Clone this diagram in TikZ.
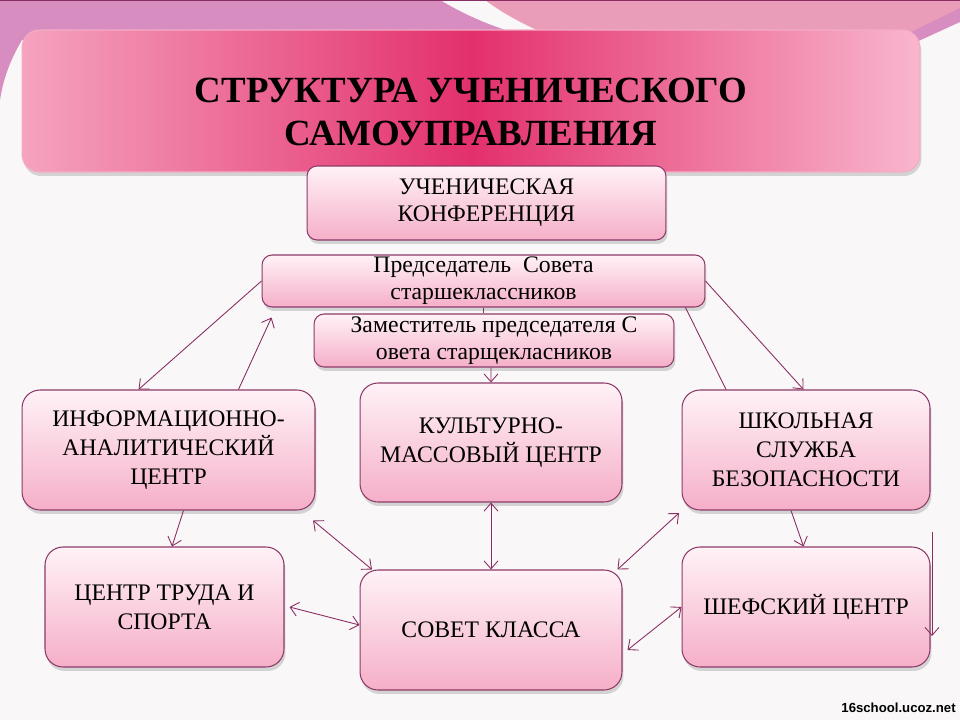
\documentclass[tikz,border=0pt]{standalone}
\usepackage{fontspec}
\setmainfont{Liberation Serif}
\newfontfamily\sajtfont{Liberation Sans}
\usepackage{tikz}
\usetikzlibrary{arrows.meta, shadows}

\definecolor{ramka}{HTML}{8E3A69}
\definecolor{strelka}{HTML}{8A2D62}
\definecolor{svetlo}{HTML}{FFF2F7}
\definecolor{rozov}{HTML}{F5AFC8}
\definecolor{malina}{HTML}{E3306C}
\definecolor{zagsvet}{HTML}{F5A3BF}
\definecolor{zagprav}{HTML}{F9B6CE}
\definecolor{fon}{HTML}{F9F7F8}
\definecolor{sirenev}{HTML}{D78DC0}
\definecolor{verh}{HTML}{EA9DB8}

\begin{document}
\begin{tikzpicture}[x=0.02cm, y=-0.02cm, >={Straight Barb[length=1.6mm,width=2.8mm]},
    blok/.style={draw=ramka, line width=0.6pt, rounded corners=0.36cm,
        top color=svetlo, bottom color=rozov,
        drop shadow={shadow xshift=0.3mm, shadow yshift=-0.8mm, opacity=0.3},
        align=center, inner sep=0pt, font=\fontsize{13.5}{16.5}\selectfont},
    melko/.style={blok, rounded corners=0.2cm, font=\fontsize{13.5}{15.5}\selectfont},
    svyaz/.style={draw=strelka, line width=0.5pt}]

    % Фон
    \fill[fon] (0,0) rectangle (960,720);
    \useasboundingbox (0,0) rectangle (960,720);
    \fill[sirenev] (0,0) -- (440,0) .. controls (470,18) and (500,30) .. (540,40)
        -- (22,40) .. controls (10,60) and (3,80) .. (0,100) -- cycle;
    \fill[verh] (485,0) -- (960,0) -- (960,12) .. controls (940,22) and (915,32) .. (895,40)
        -- (560,40) .. controls (530,28) and (505,15) .. (485,0) -- cycle;
    \fill[sirenev] (895,40) -- (960,8) -- (960,22) -- (912,44) -- cycle;
    \draw[strelka, line width=1pt] (0,0) -- (960,0);

    % Заголовок
    \node[draw=white!60!malina, line width=0.6pt, rounded corners=0.35cm,
        minimum width=17.96cm, minimum height=2.84cm, inner sep=0pt,
        left color=zagsvet, right color=zagprav, middle color=malina,
        drop shadow={shadow xshift=0.3mm, shadow yshift=-0.8mm, opacity=0.3},
        align=center, font=\fontsize{21}{24.5}\selectfont\bfseries]
        (zag) at (471,101) {\rule{0pt}{26pt}СТРУКТУРА УЧЕНИЧЕСКОГО\\САМОУПРАВЛЕНИЯ};

    % Верхние блоки
    \node[melko, minimum width=7.18cm, minimum height=1.48cm] (konf) at (486.5,203)
        {УЧЕНИЧЕСКАЯ\\КОНФЕРЕНЦИЯ};
    \node[melko, minimum width=8.86cm, minimum height=1.04cm] (pred) at (483.5,281)
        {Председатель\ \ Совета\\старшеклассников};
    \node[melko, minimum width=7.2cm, minimum height=1.06cm] (zam) at (494,340.5)
        {Заместитель председателя С\\овета старщекласников};

    % Центры
    \node[blok, minimum width=5.86cm, minimum height=2.4cm] (info) at (168.5,450)
        {ИНФОРМАЦИОННО-\\АНАЛИТИЧЕСКИЙ\\ЦЕНТР};
    \node[blok, minimum width=5.24cm, minimum height=2.38cm] (kult) at (491,442.5)
        {КУЛЬТУРНО-\\МАССОВЫЙ ЦЕНТР};
    \node[blok, minimum width=4.96cm, minimum height=2.4cm] (shkol) at (806,450)
        {ШКОЛЬНАЯ\\СЛУЖБА\\БЕЗОПАСНОСТИ};
    \node[blok, minimum width=4.78cm, minimum height=2.4cm] (trud) at (164.5,607)
        {ЦЕНТР ТРУДА И\\СПОРТА};
    \node[blok, minimum width=5.24cm, minimum height=2.4cm] (sovet) at (491,630)
        {СОВЕТ КЛАССА};
    \node[blok, minimum width=4.96cm, minimum height=2.4cm] (shef) at (806,607)
        {ШЕФСКИЙ ЦЕНТР};

    % Связи от председателя
    \draw[svyaz, ->] (pred.west) -- ([xshift=-0.6cm]info.north);
    \draw[svyaz, ->] ([xshift=1.4cm]info.north) -- ([xshift=0.2cm, yshift=-0.2cm]pred.south west);
    \draw[svyaz] (pred.south) -- (pred.south |- zam.north);
    \draw[svyaz, ->] ([xshift=-0.06cm]zam.south) -- (kult.north);
    \draw[svyaz, ->] (pred.east) -- ([xshift=-0.05cm]shkol.north);
    \draw[svyaz] ([xshift=-0.4cm]pred.south east) -- ([xshift=-1.6cm]shkol.north);

    % Связи нижнего ряда
    \draw[svyaz, ->] ([xshift=0.3cm]info.south) -- ([xshift=0.15cm]trud.north);
    \draw[svyaz, ->] ([xshift=-0.3cm]shkol.south) -- ([xshift=-0.05cm]shef.north);
    \draw[svyaz, <->] (kult.south) -- (sovet.north);
    \draw[svyaz, <->] ([xshift=-0.05cm, yshift=-0.2cm]info.south east) -- ([xshift=0.25cm]sovet.north west);
    \draw[svyaz, <->] ([xshift=-0.05cm, yshift=-0.05cm]shkol.south west) -- ([xshift=-0.1cm]sovet.north east);
    \draw[svyaz, <->] ([xshift=0.1cm]trud.east) -- ([yshift=0.1cm]sovet.west);
    \draw[svyaz, <->] (shef.west) -- ([xshift=0.1cm, yshift=-0.4cm]sovet.east);

    % Линия справа
    \coordinate (vverh) at (932,532);
    \coordinate (vniz) at (932,636);
    \draw[svyaz, ->] (vverh) -- (vniz);

    % Подпись сайта
    \node[anchor=east, inner sep=0pt, font=\fontsize{7.5}{8}\sajtfont\bfseries] (sajt) at (956,708)
        {16school.ucoz.net};
\end{tikzpicture}
\end{document}
